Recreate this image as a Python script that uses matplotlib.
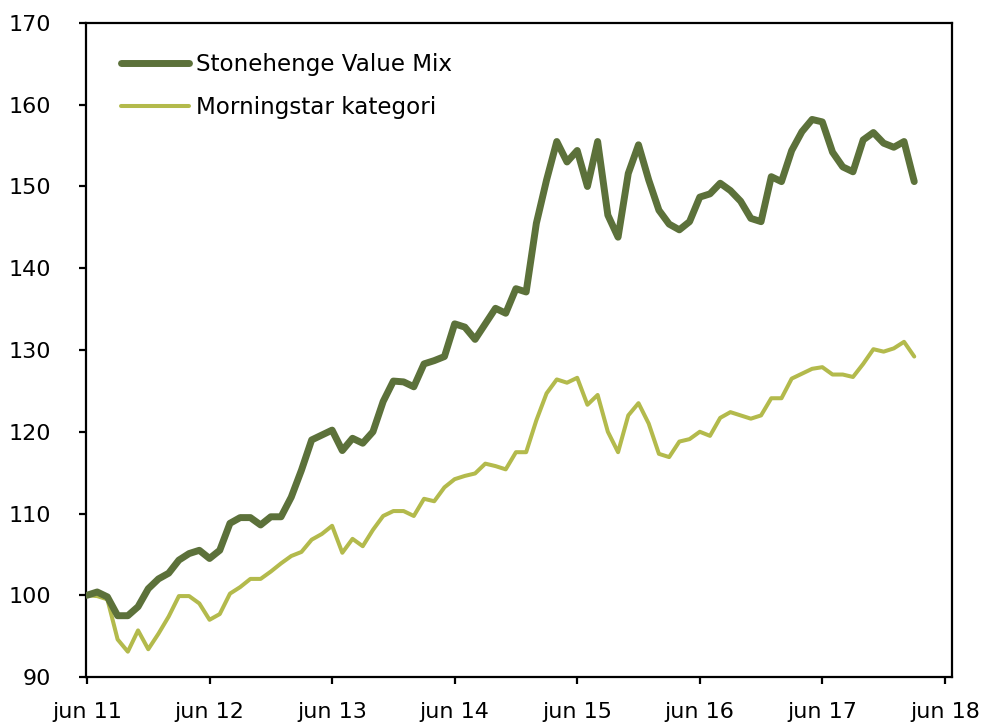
import numpy as np
import matplotlib
matplotlib.use("Agg")
import matplotlib.pyplot as plt

# Monthly index values, jun 2011 .. mar 2018
stonehenge = [100.0, 100.4, 99.8, 97.5, 97.5, 98.6, 100.8, 102.0, 102.7, 104.3,
              105.1, 105.5, 104.5, 105.5, 108.8, 109.5, 109.5, 108.6, 109.6, 109.6,
              112.0, 115.3, 119.0, 119.6, 120.2, 117.7, 119.2, 118.6, 120.0, 123.7,
              126.2, 126.1, 125.5, 128.3, 128.7, 129.2, 133.2, 132.8, 131.3, 133.2,
              135.1, 134.5, 137.5, 137.1, 145.5, 150.8, 155.5, 153.0, 154.4, 150.0,
              155.5, 146.5, 143.8, 151.6, 155.1, 150.8, 147.1, 145.4, 144.7, 145.7,
              148.7, 149.1, 150.4, 149.5, 148.2, 146.1, 145.7, 151.2, 150.6, 154.4,
              156.7, 158.2, 157.9, 154.2, 152.4, 151.8, 155.7, 156.6, 155.3, 154.8,
              155.5, 150.6]
morningstar = [100.0, 99.9, 99.5, 94.6, 93.1, 95.7, 93.4, 95.3, 97.4, 99.9,
               99.9, 99.0, 97.0, 97.7, 100.2, 101.0, 102.0, 102.0, 102.9, 103.9,
               104.8, 105.3, 106.8, 107.5, 108.5, 105.2, 106.9, 106.0, 108.0, 109.7,
               110.3, 110.3, 109.7, 111.8, 111.5, 113.2, 114.2, 114.6, 114.9, 116.1,
               115.8, 115.4, 117.5, 117.5, 121.4, 124.7, 126.4, 126.0, 126.6, 123.3,
               124.5, 120.0, 117.5, 122.0, 123.5, 121.0, 117.3, 116.9, 118.8, 119.1,
               120.0, 119.5, 121.7, 122.4, 122.0, 121.6, 122.0, 124.1, 124.1, 126.5,
               127.1, 127.7, 127.9, 127.0, 127.0, 126.7, 128.3, 130.1, 129.8, 130.2,
               131.0, 129.2]
series_names = ["Stonehenge Value Mix", "Morningstar kategori"]
tick_labels = ["jun 11", "jun 12", "jun 13", "jun 14", "jun 15", "jun 16", "jun 17", "jun 18"]
y_ticks = [90, 100, 110, 120, 130, 140, 150, 160, 170]

plt.rcParams['font.family'] = ['DejaVu Sans']

fig = plt.figure(figsize=(9.88, 7.23), dpi=100)
ax = fig.add_axes([0.087, 0.0636, 0.8766, 0.9046])

months = np.arange(len(stonehenge))
ax.plot(months, stonehenge, color="#5C713A", lw=5.0, solid_capstyle="round",
        solid_joinstyle="round", label=series_names[0], zorder=3)
ax.plot(months, morningstar, color="#B3BA4C", lw=2.9, solid_capstyle="round",
        solid_joinstyle="round", label=series_names[1], zorder=2)

ax.set_xlim(-0.1, 84.7)
ax.set_ylim(90, 170)
ax.set_xticks(np.arange(len(tick_labels)) * 12)
ax.set_xticklabels(tick_labels)
ax.set_yticks(y_ticks)

for s in ax.spines.values():
    s.set_linewidth(1.6)
    s.set_color("black")
ax.tick_params(axis="both", direction="out", length=5, width=1.6, labelsize=16)
ax.tick_params(axis="y", pad=20)
ax.tick_params(axis="x", pad=13)

leg = ax.legend(loc="upper left", bbox_to_anchor=(0.03, 0.968), frameon=False,
                fontsize=16.6, handlelength=2.95, handletextpad=0.3, labelspacing=0.88,
                borderaxespad=0)

fig.savefig("out.png", dpi=100)
